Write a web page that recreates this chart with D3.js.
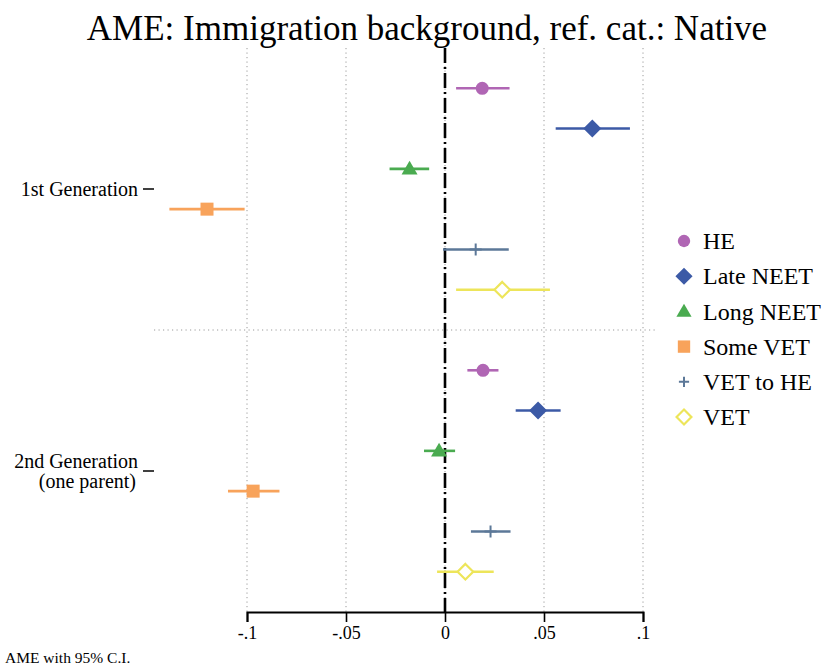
<!DOCTYPE html>
<html><head><meta charset="utf-8">
<script src="https://cdn.jsdelivr.net/npm/d3@7"></script>
<style>body{margin:0;background:#fff}svg{display:block}text{font-family:"Liberation Serif","Times New Roman",serif;fill:#000}</style>
</head><body><div id="chart"></div>
<script>
const groups = ["1st Generation", "2nd Generation (one parent)"];
const seriesNames = ["HE", "Late NEET", "Long NEET", "Some VET", "VET to HE", "VET"];
const seriesColors = ["#b066b4", "#3c5aa6", "#4aab50", "#f8a35b", "#5c7898", "#ede55a"];
const seriesShapes = ["circle", "diamond", "triangle", "square", "plus", "diamondHollow"];
// point estimates per series: [1st gen, 2nd gen]
const estHE = [0.0188, 0.0192];
const estLateNEET = [0.0744, 0.0470];
const estLongNEET = [-0.0179, -0.0030];
const estSomeVET = [-0.1202, -0.0969];
const estVETtoHE = [0.0155, 0.0230];
const estVET = [0.0289, 0.0103];
// 95% CI lower / upper per series: [1st gen, 2nd gen]
const loHE = [0.0056, 0.0113], hiHE = [0.0326, 0.0270];
const loLateNEET = [0.0559, 0.0357], hiLateNEET = [0.0934, 0.0584];
const loLongNEET = [-0.0280, -0.0106], hiLongNEET = [-0.0080, 0.0051];
const loSomeVET = [-0.1392, -0.1096], hiSomeVET = [-0.1012, -0.0836];
const loVETtoHE = [-0.0010, 0.0131], hiVETtoHE = [0.0322, 0.0331];
const loVET = [0.0056, -0.0040], hiVET = [0.0530, 0.0246];
const xTicks = [-0.1, -0.05, 0, 0.05, 0.1];
const xTickLabels = ["-.1", "-.05", "0", ".05", ".1"];

const est = [estHE, estLateNEET, estLongNEET, estSomeVET, estVETtoHE, estVET];
const lo = [loHE, loLateNEET, loLongNEET, loSomeVET, loVETtoHE, loVET];
const hi = [hiHE, hiLateNEET, hiLongNEET, hiSomeVET, hiVETtoHE, hiVET];

const SERIF = "'Liberation Serif','Times New Roman',serif";
const W = 833, H = 671;
const svg = d3.select("#chart").append("svg").attr("width", W).attr("height", H);

const plotL = 154, plotR = 655, plotT = 48, plotB = 612;
const x = d3.scaleLinear().domain([-0.1, 0.1]).range([247, 643]);
// row index: group g, series s -> g*7 + s
const y = d3.scaleLinear().domain([-1, 13]).range([plotT, plotB]);

// title
svg.append("text").attr("x", 427).attr("y", 40).attr("text-anchor", "middle")
  .attr("font-family", SERIF).style("font-size", "35px").text("AME: Immigration background, ref. cat.: Native");

// vertical dotted gridlines
svg.append("g").selectAll("line").data(xTicks).join("line")
  .attr("x1", d => x(d)).attr("x2", d => x(d)).attr("y1", plotT).attr("y2", plotB)
  .attr("stroke", "#9a9a9a").attr("stroke-width", 1).attr("stroke-dasharray", "1.2,3.3");

// group separator
svg.append("line").attr("x1", plotL).attr("x2", plotR).attr("y1", y(6)).attr("y2", y(6))
  .attr("stroke", "#9a9a9a").attr("stroke-width", 1).attr("stroke-dasharray", "1.2,3.3");

// reference line at 0
svg.append("line").attr("x1", x(0)).attr("x2", x(0)).attr("y1", plotT).attr("y2", plotB)
  .attr("stroke", "#000").attr("stroke-width", 2.6).attr("stroke-dasharray", "15,4,2,4");

// x axis
const xAxis = d3.axisBottom(x).tickValues(xTicks).tickSize(10).tickPadding(4)
  .tickFormat((d, i) => xTickLabels[i]);
const gx = svg.append("g").attr("transform", `translate(0,${plotB})`).call(xAxis);
gx.select(".domain").attr("stroke", "#000").attr("stroke-width", 2);
gx.selectAll(".tick line").attr("stroke", "#000").attr("stroke-width", 1.6);
gx.selectAll(".tick text").style("font-size", "18px").attr("font-family", SERIF).style("font-family", SERIF).attr("fill", "#000");

// y category ticks
const gy = svg.append("g");
groups.forEach((g, gi) => {
  const yc = y(gi * 7 + 2.5);
  gy.append("line").attr("x1", plotL - 11).attr("x2", plotL).attr("y1", yc).attr("y2", yc)
    .attr("stroke", "#000").attr("stroke-width", 1.5);
  if (gi === 0) {
    gy.append("text").attr("x", plotL - 16).attr("y", yc).attr("dy", "0.33em")
      .attr("text-anchor", "end").attr("font-family", SERIF).style("font-size", "20px").text(g);
  } else {
    const t = gy.append("text").attr("text-anchor", "end").attr("font-family", SERIF).style("font-size", "20px");
    t.append("tspan").attr("x", 138).attr("y", yc - 10).attr("dy", "0.33em").text("2nd Generation");
    t.append("tspan").attr("x", 136).attr("y", yc + 10).attr("dy", "0.33em").text("(one parent)");
  }
});

function drawMarker(sel, shape, color, cx, cy, scale) {
  const k = scale || 1;
  if (shape === "circle") {
    sel.append("circle").attr("cx", cx).attr("cy", cy).attr("r", 6.5 * k).attr("fill", color);
  } else if (shape === "diamond" || shape === "diamondHollow") {
    const r = 9 * k;
    const p = sel.append("path").attr("d", `M${cx},${cy - r}L${cx + r},${cy}L${cx},${cy + r}L${cx - r},${cy}Z`);
    if (shape === "diamond") p.attr("fill", color);
    else { const r2 = 7.8 * k; p.attr("d", `M${cx},${cy - r2}L${cx + r2},${cy}L${cx},${cy + r2}L${cx - r2},${cy}Z`).attr("fill", "#fff").attr("stroke", color).attr("stroke-width", 2.2); }
  } else if (shape === "triangle") {
    const s = 8 * k;
    sel.append("path").attr("d", `M${cx},${cy - s * 1.0}L${cx + s},${cy + s * 0.72}L${cx - s},${cy + s * 0.72}Z`).attr("fill", color);
  } else if (shape === "square") {
    const s = 6.5 * k;
    sel.append("rect").attr("x", cx - s).attr("y", cy - s).attr("width", 2 * s).attr("height", 2 * s).attr("fill", color);
  } else if (shape === "plus") {
    const s = 6 * k;
    sel.append("path").attr("d", `M${cx - s},${cy}L${cx + s},${cy}M${cx},${cy - s}L${cx},${cy + s}`)
      .attr("stroke", color).attr("stroke-width", 2).attr("fill", "none");
  }
}

// CIs and points
const gm = svg.append("g");
groups.forEach((g, gi) => {
  seriesNames.forEach((s, si) => {
    const yy = y(gi * 7 + si);
    gm.append("line").attr("x1", x(lo[si][gi])).attr("x2", x(hi[si][gi])).attr("y1", yy).attr("y2", yy)
      .attr("stroke", seriesColors[si]).attr("stroke-width", 2.6);
    drawMarker(gm, seriesShapes[si], seriesColors[si], x(est[si][gi]), yy, 1);
  });
});

// legend
const lg = svg.append("g");
seriesNames.forEach((s, i) => {
  const ly = 241 + i * 35.2;
  drawMarker(lg, seriesShapes[i], seriesColors[i], 684, ly, i === 4 ? 0.85 : 0.95);
  lg.append("text").attr("x", 703).attr("y", ly).attr("dy", "0.34em")
    .attr("font-family", SERIF).style("font-family", SERIF).style("font-size", "24px").text(s);
});

// note
svg.append("text").attr("x", 5).attr("y", 663).attr("font-family", SERIF).style("font-size", "15.5px").text("AME with 95% C.I.");
</script></body></html>
